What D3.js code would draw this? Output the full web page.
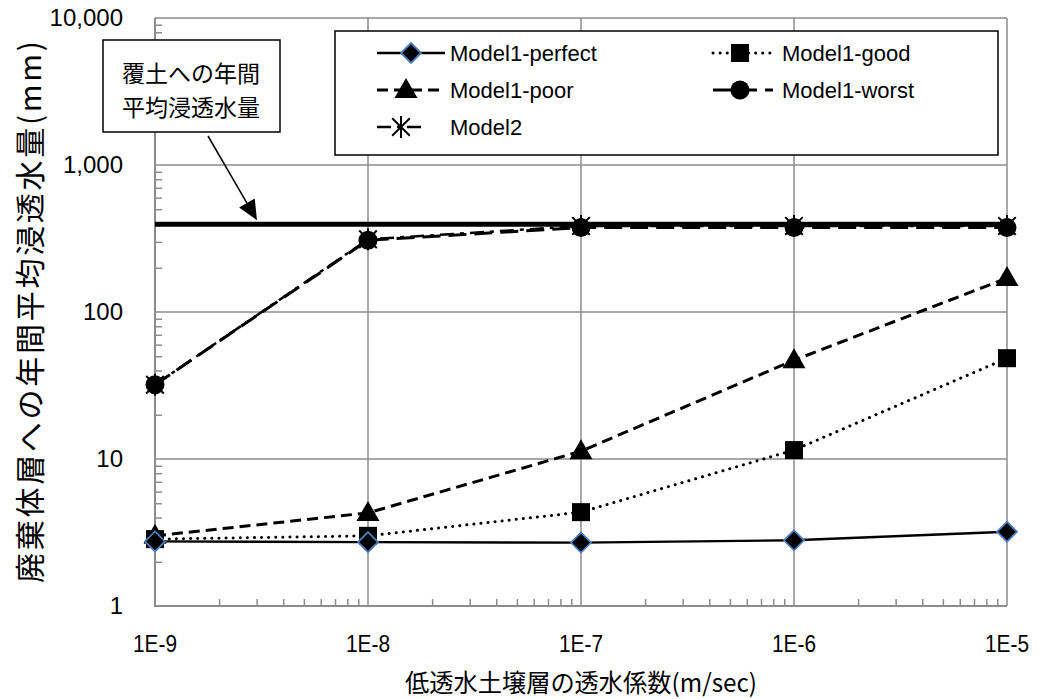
<!DOCTYPE html>
<html>
<head>
<meta charset="utf-8">
<script src="https://cdn.jsdelivr.net/npm/d3@7"></script>
<style>
  body { margin: 0; background: #fff; }
  svg { display: block; }
  text { font-family: "Liberation Sans", Arial, sans-serif; fill: #000; }
  .jp { font-family: "Noto Sans CJK JP", sans-serif; }
</style>
</head>
<body>
<svg id="chart" width="1037" height="699"></svg>
<script>
// Hydraulic conductivity of the low-permeability soil layer (m/sec)
const conductivity = [1e-9, 1e-8, 1e-7, 1e-6, 1e-5];
const xTickLabels = ["1E-9", "1E-8", "1E-7", "1E-6", "1E-5"];
const yTickValues = [1, 10, 100, 1000, 10000];
const yTickLabels = ["1", "10", "100", "1,000", "10,000"];

// Annual mean infiltration into the waste layer (mm)
const model1Perfect = [2.75, 2.72, 2.70, 2.80, 3.2];
const model1Good    = [2.85, 3.0, 4.35, 11.5, 48.5];
const model1Poor    = [3.0, 4.3, 11.3, 47, 170];
const model1Worst   = [32, 308, 375, 375, 375];
const model2        = [32, 312, 385, 385, 385];

// Annual mean infiltration into the cover soil (mm)
const coverInfiltration = 395;

const seriesNames = ["Model1-perfect", "Model1-good", "Model1-poor", "Model1-worst", "Model2"];

const svg = d3.select("#chart");
const plotLeft = 155, plotRight = 1007, plotTop = 18, plotBottom = 606;

const x = d3.scaleLog().domain([1e-9, 1e-5]).range([plotLeft, plotRight]);
const y = d3.scaleLog().domain([1, 10000]).range([plotBottom, plotTop]);

const gridColor = "#8c8c8c";

// Major gridlines
const grid = svg.append("g");
grid.selectAll("line.v").data(conductivity).join("line")
  .attr("x1", d => x(d)).attr("x2", d => x(d))
  .attr("y1", plotTop).attr("y2", plotBottom)
  .attr("stroke", gridColor).attr("stroke-width", 1.5);
grid.selectAll("line.h").data(yTickValues).join("line")
  .attr("x1", plotLeft).attr("x2", plotRight)
  .attr("y1", d => y(d)).attr("y2", d => y(d))
  .attr("stroke", gridColor).attr("stroke-width", 1.5);

// Minor ticks, pointing inward
const minorY = [];
for (let e = 0; e < 4; e++) for (let m = 2; m <= 9; m++) minorY.push(m * Math.pow(10, e));
const minorX = [];
for (let e = -9; e < -5; e++) for (let m = 2; m <= 9; m++) minorX.push(m * Math.pow(10, e));

const yAxis = d3.axisRight(y).tickValues(minorY).tickSize(7).tickFormat("");
svg.append("g").attr("transform", `translate(${plotLeft},0)`).call(yAxis)
  .call(g => g.selectAll("line").attr("stroke", gridColor).attr("stroke-width", 1.5))
  .call(g => g.select(".domain").remove());
const xAxis = d3.axisTop(x).tickValues(minorX).tickSize(7).tickFormat("");
svg.append("g").attr("transform", `translate(0,${plotBottom})`).call(xAxis)
  .call(g => g.selectAll("line").attr("stroke", gridColor).attr("stroke-width", 1.5))
  .call(g => g.select(".domain").remove());

// Axis lines
svg.append("line").attr("x1", plotLeft).attr("x2", plotLeft).attr("y1", plotTop).attr("y2", plotBottom + 1)
  .attr("stroke", gridColor).attr("stroke-width", 2);
svg.append("line").attr("x1", plotLeft - 1).attr("x2", plotRight).attr("y1", plotBottom).attr("y2", plotBottom)
  .attr("stroke", gridColor).attr("stroke-width", 2);

// Tick labels
svg.append("g").selectAll("text").data(yTickValues).join("text")
  .attr("x", 123).attr("y", d => y(d) + 8)
  .attr("text-anchor", "end").attr("font-size", 24)
  .text((d, i) => yTickLabels[i]);
svg.append("g").selectAll("text").data(conductivity).join("text")
  .attr("x", d => x(d)).attr("y", 652)
  .attr("text-anchor", "middle").attr("font-size", 24)
  .attr("textLength", 44).attr("lengthAdjust", "spacingAndGlyphs")
  .text((d, i) => xTickLabels[i]);

// Axis titles
svg.append("text").attr("class", "jp")
  .attr("transform", `translate(41,${(plotTop + plotBottom) / 2}) rotate(-90)`)
  .attr("text-anchor", "middle").attr("font-size", 30)
  .attr("textLength", 542).attr("lengthAdjust", "spacing")
  .text("廃棄体層への年間平均浸透水量(mm)");
svg.append("text").attr("class", "jp")
  .attr("x", (plotLeft + plotRight) / 2).attr("y", 692)
  .attr("text-anchor", "middle").attr("font-size", 25)
  .attr("textLength", 352).attr("lengthAdjust", "spacingAndGlyphs")
  .text("低透水土壌層の透水係数(m/sec)");

// Cover-soil infiltration reference line
svg.append("line")
  .attr("x1", plotLeft).attr("x2", plotRight)
  .attr("y1", y(coverInfiltration)).attr("y2", y(coverInfiltration))
  .attr("stroke", "#000").attr("stroke-width", 5);

// Series styles
const styles = [
  { values: model1Perfect, dash: null, width: 2.4, cap: "butt", marker: "diamond" },
  { values: model1Good, dash: "0.1 7", width: 3, cap: "round", marker: "square" },
  { values: model1Poor, dash: "11 6", width: 3, cap: "butt", marker: "triangle" },
  { values: model1Worst, dash: "18 8", width: 3, cap: "butt", marker: "circle" },
  { values: model2, dash: "14 6 4 6", width: 2.5, cap: "butt", marker: "asterisk" }
];

const line = d3.line().x((d, i) => x(conductivity[i])).y(d => y(d));

function drawMarker(g, type, cx, cy) {
  if (type === "diamond") {
    g.append("path").attr("d", `M${cx},${cy - 10}L${cx + 10},${cy}L${cx},${cy + 10}L${cx - 10},${cy}Z`)
      .attr("fill", "#000").attr("stroke", "#4a7ebb").attr("stroke-width", 1.8);
  } else if (type === "square") {
    g.append("rect").attr("x", cx - 9).attr("y", cy - 9).attr("width", 18).attr("height", 18)
      .attr("fill", "#000");
  } else if (type === "triangle") {
    g.append("path").attr("d", `M${cx},${cy - 12}L${cx + 11.5},${cy + 8}L${cx - 11.5},${cy + 8}Z`)
      .attr("fill", "#000");
  } else if (type === "circle") {
    g.append("circle").attr("cx", cx).attr("cy", cy).attr("r", 9.5).attr("fill", "#000");
  } else if (type === "asterisk") {
    const r = 11;
    g.append("path")
      .attr("d", `M${cx - r * 0.8},${cy - r * 0.8}L${cx + r * 0.8},${cy + r * 0.8}` +
                 `M${cx + r * 0.8},${cy - r * 0.8}L${cx - r * 0.8},${cy + r * 0.8}` +
                 `M${cx},${cy - r}L${cx},${cy + r}`)
      .attr("stroke", "#000").attr("stroke-width", 2).attr("fill", "none");
  }
}

// Lines first, markers on top (drawn in reverse order so Model1 markers stay visible)
styles.slice().reverse().forEach(s => {
  svg.append("path").datum(s.values)
    .attr("d", line).attr("fill", "none").attr("stroke", "#000")
    .attr("stroke-width", s.width).attr("stroke-linecap", s.cap)
    .attr("stroke-dasharray", s.dash);
});
styles.slice().reverse().forEach(s => {
  const g = svg.append("g");
  s.values.forEach((v, i) => drawMarker(g, s.marker, x(conductivity[i]), y(v)));
});

// Legend
const lg = svg.append("g");
lg.append("rect").attr("x", 335).attr("y", 31).attr("width", 663).attr("height", 124)
  .attr("fill", "#fff").attr("stroke", "#000").attr("stroke-width", 1.5);
const legendPos = [
  { x0: 377, x1: 445, mx: 411, tx: 450, ly: 53 },
  { x0: 713, x1: 773, mx: 740, tx: 782, ly: 53 },
  { x0: 377, x1: 445, mx: 406, tx: 450, ly: 90 },
  { x0: 713, x1: 773, mx: 740, tx: 782, ly: 90 },
  { x0: 377, x1: 422, mx: 401, tx: 450, ly: 127 }
];
styles.forEach((s, i) => {
  const p = legendPos[i];
  lg.append("line").attr("x1", p.x0).attr("x2", p.x1).attr("y1", p.ly).attr("y2", p.ly)
    .attr("stroke", "#000").attr("stroke-width", s.width).attr("stroke-linecap", s.cap)
    .attr("stroke-dasharray", s.dash);
  drawMarker(lg, s.marker, p.mx, p.ly);
  lg.append("text").attr("x", p.tx).attr("y", p.ly + 8)
    .attr("font-size", 22).text(seriesNames[i]);
});

// Callout for the cover-soil line
const cg = svg.append("g");
cg.append("rect").attr("x", 103).attr("y", 40).attr("width", 177).attr("height", 92)
  .attr("fill", "#fff").attr("stroke", "#000").attr("stroke-width", 1.5);
cg.append("text").attr("class", "jp").attr("x", 191).attr("y", 82)
  .attr("text-anchor", "middle").attr("font-size", 23).text("覆土への年間");
cg.append("text").attr("class", "jp").attr("x", 191).attr("y", 116)
  .attr("text-anchor", "middle").attr("font-size", 23).text("平均浸透水量");
const ax0 = 208, ay0 = 136, ax1 = 257, ay1 = y(coverInfiltration) - 4;
const ang = Math.atan2(ay1 - ay0, ax1 - ax0);
const hl = 20, hw = 9;
const bx = ax1 - hl * Math.cos(ang), by = ay1 - hl * Math.sin(ang);
cg.append("line").attr("x1", ax0).attr("y1", ay0).attr("x2", bx).attr("y2", by)
  .attr("stroke", "#000").attr("stroke-width", 1.5);
cg.append("path")
  .attr("d", `M${ax1},${ay1}L${bx + hw * Math.sin(ang)},${by - hw * Math.cos(ang)}` +
             `L${bx - hw * Math.sin(ang)},${by + hw * Math.cos(ang)}Z`)
  .attr("fill", "#000");
</script>
</body>
</html>
